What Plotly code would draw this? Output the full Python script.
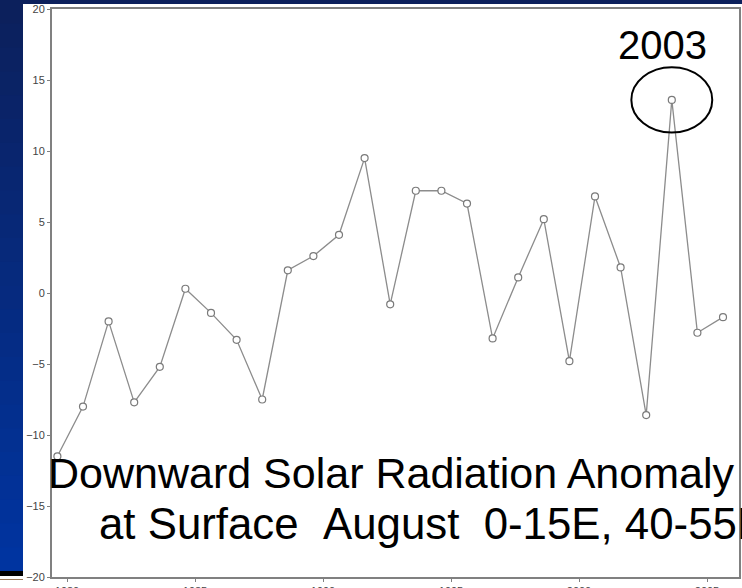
import plotly.graph_objects as go

# ---- data ----
years = list(range(1979, 2006))
anomaly = [-11.5, -8.0, -2.0, -7.7, -5.2, 0.3, -1.4, -3.3, -7.5, 1.6,
           2.6, 4.1, 9.5, -0.8, 7.2, 7.2, 6.3, -3.2, 1.1, 5.2,
           -4.8, 6.8, 1.8, -8.6, 13.6, -2.8, -1.7]
month_offset = 7.5 / 12  # August
x_vals = [y + month_offset for y in years]
highlight_year = 2003
y_ticks = [-20, -15, -10, -5, 0, 5, 10, 15, 20]
x_ticks = [1980, 1985, 1990, 1995, 2000, 2005]
title_line1 = "Downward Solar Radiation Anomaly"
title_line2 = "at Surface\u00a0\u00a0August\u00a0\u00a00-15E,\u00a040-55N"

# ---- layout geometry (pixels) ----
W, H = 742, 588
L, R, T, B = 52, 739, 9, 577


def xp(px):
    return (px - L) / (R - L)


def yp(py):
    return (B - py) / (B - T)


fig = go.Figure()
fig.add_trace(go.Scatter(
    x=x_vals, y=anomaly, mode="lines+markers",
    line=dict(color="#8c8c8c", width=1.3),
    marker=dict(symbol="circle", size=7, color="white",
                line=dict(color="#7a7a7a", width=1.2)),
    showlegend=False, hoverinfo="x+y"))

shapes = []
# blue gradient left strip (drawn as stacked, overlapping bands)
N = 24
c0 = (12, 32, 92)
c1 = (0, 52, 160)
strip_bottom = 571
for i in range(N):
    t = i / (N - 1)
    col = "rgb(%d,%d,%d)" % tuple(round(a + (b - a) * t) for a, b in zip(c0, c1))
    py0 = strip_bottom * i / N
    shapes.append(dict(type="rect", xref="paper", yref="paper", layer="above",
                       x0=xp(0), x1=xp(23), y0=yp(strip_bottom), y1=yp(py0),
                       fillcolor=col, line=dict(width=0)))
# top band
shapes.append(dict(type="rect", xref="paper", yref="paper", layer="above",
                   x0=xp(0), x1=xp(W), y0=yp(4), y1=yp(0),
                   fillcolor="rgb(12,32,92)", line=dict(width=0)))
# bottom-left black bar and thin line
shapes.append(dict(type="rect", xref="paper", yref="paper", layer="above",
                   x0=xp(0), x1=xp(23), y0=yp(576), y1=yp(571),
                   fillcolor="black", line=dict(width=0)))
shapes.append(dict(type="line", xref="paper", yref="paper", layer="above",
                   x0=xp(0), x1=xp(23), y0=yp(579.5), y1=yp(579.5),
                   line=dict(color="#9a7a5a", width=1)))

# ellipse around highlighted point
idx = years.index(highlight_year)
hx, hy = x_vals[idx], anomaly[idx]
shapes.append(dict(type="circle", xref="x", yref="y",
                   x0=hx - 1.58, x1=hx + 1.58, y0=hy - 2.3, y1=hy + 2.3,
                   line=dict(color="black", width=2)))

annotations = [
    dict(text=str(highlight_year), xref="x", yref="y", x=hx - 0.36, y=hy + 3.9,
         showarrow=False, font=dict(family="Liberation Sans, Arial", size=40, color="black"),
         xanchor="center", yanchor="middle"),
    dict(text=title_line1, xref="paper", yref="paper", x=xp(46), y=yp(472.5),
         showarrow=False, xanchor="left", yanchor="middle",
         font=dict(family="Liberation Sans, Arial", size=43, color="black")),
    dict(text=title_line2, xref="paper", yref="paper", x=xp(97), y=yp(523.5),
         showarrow=False, xanchor="left", yanchor="middle",
         font=dict(family="Liberation Sans, Arial", size=43.8, color="black")),
]

axis_common = dict(showline=True, linecolor="#808080", linewidth=2, mirror=True,
                   showgrid=False, zeroline=False, ticks="outside", ticklen=3,
                   tickcolor="#808080", tickwidth=1, automargin=False,
                   tickfont=dict(family="Liberation Sans, Arial", size=11, color="#444444"))

fig.update_layout(
    width=W, height=H,
    margin=dict(l=L, r=W - R, t=T, b=H - B, pad=0, autoexpand=False),
    paper_bgcolor="white", plot_bgcolor="white",
    xaxis=dict(range=[1980 + (L - 67) / 25.6, 1980 + (R - 67) / 25.6],
               tickvals=x_ticks, **axis_common),
    yaxis=dict(range=[-20, 20], tickvals=y_ticks, **axis_common),
    shapes=shapes, annotations=annotations,
)

fig.write_html("out.html", config={"displayModeBar": False},
               post_script="document.body.style.margin='0';document.body.style.overflow='hidden';")
